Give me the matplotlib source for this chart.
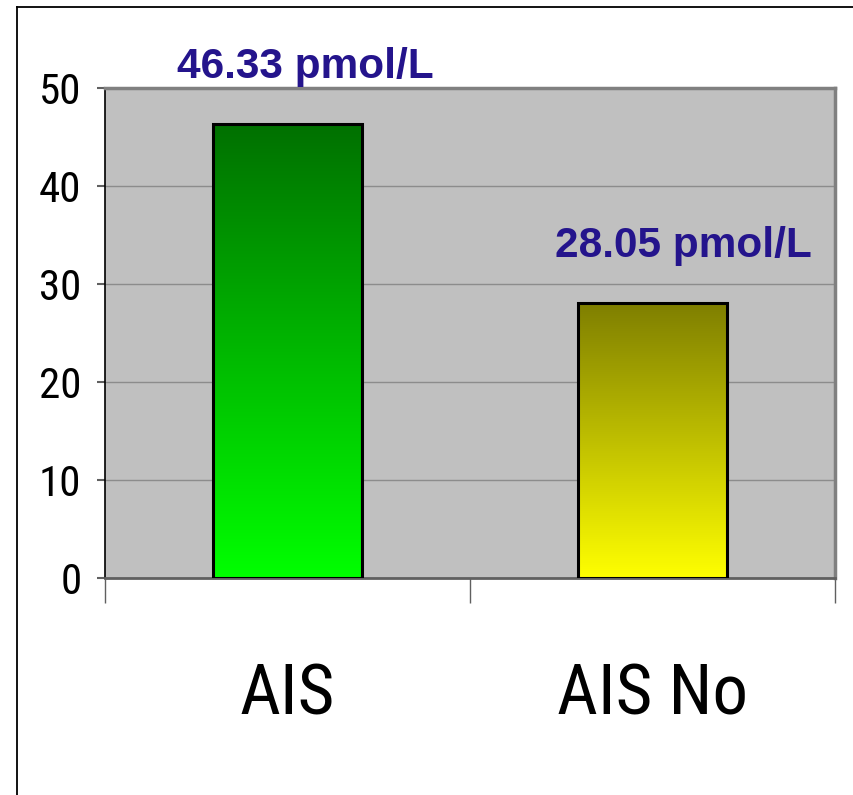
import numpy as np
import matplotlib.pyplot as plt
from matplotlib.lines import Line2D
from matplotlib.colors import LinearSegmentedColormap

# data
categories = ["AIS", "AIS No"]
values = [46.33, 28.05]
value_labels = ["46.33 pmol/L", "28.05 pmol/L"]
top_colors = ["#007000", "#7f7f00"]
bottom_colors = ["#00ff00", "#ffff00"]

# horizontal shift of each value label (points)
label_dx = [13, 22]

narrow = ["Roboto Condensed", "Archivo Narrow", "DejaVu Sans"]

fig = plt.figure(figsize=(8.54, 7.95), dpi=100)
ax = fig.add_axes([105 / 854, 1 - 578 / 795, (835 - 105) / 854, (578 - 88) / 795])
ax.set_facecolor("#c0c0c0")

bar_w = 0.41
bars = ax.bar(range(len(categories)), values, width=bar_w, color="none",
              edgecolor="black", linewidth=2.2, zorder=3)

# vertical gradient inside each bar
for i, (b, v) in enumerate(zip(bars, values)):
    cmap = LinearSegmentedColormap.from_list("g%d" % i, [bottom_colors[i], top_colors[i]])
    grad = np.linspace(0, 1, 256).reshape(-1, 1)
    im = ax.imshow(grad, cmap=cmap, aspect="auto", origin="lower",
                   extent=[i - bar_w / 2, i + bar_w / 2, 0, v], zorder=2)
    im.set_clip_path(b)
    ax.annotate(value_labels[i], xy=(i, v), xytext=(label_dx[i], 33), textcoords="offset points",
                ha="center", va="baseline", fontsize=30.5, fontweight="bold",
                color="#24148c", family=["Liberation Sans", "DejaVu Sans"],
                annotation_clip=False)

ax.set_xlim(-0.5, 1.5)
ax.set_ylim(0, 50)
ax.set_yticks([0, 10, 20, 30, 40, 50])
ax.yaxis.grid(True, color="#8c8c8c", linewidth=1.0, zorder=1)
ax.set_axisbelow(True)

ax.set_xticks([0, 1])
ax.set_xticklabels(categories, family=narrow, fontsize=51)
ax.set_xticks([-0.5, 0.5, 1.5], minor=True)
ax.tick_params(axis="x", which="major", length=0, pad=60)
ax.tick_params(axis="x", which="minor", length=18, width=1.0, color="#606060", direction="out")
ax.tick_params(axis="y", length=6, width=1.5, color="#606060", pad=11, labelsize=31)
for lab in ax.get_yticklabels():
    lab.set_family(narrow)

ax.spines["top"].set_color("#808080")
ax.spines["top"].set_linewidth(2.5)
ax.spines["right"].set_color("#808080")
ax.spines["right"].set_linewidth(2.5)
ax.spines["left"].set_color("black")
ax.spines["left"].set_linewidth(1.2)
ax.spines["bottom"].set_color("#606060")
ax.spines["bottom"].set_linewidth(2)

# outer frame (left and top edges)
fig.add_artist(Line2D([17 / 854, 17 / 854], [0, 1 - 7 / 795], color="black", linewidth=1.3))
fig.add_artist(Line2D([17 / 854, 1], [1 - 7 / 795, 1 - 7 / 795], color="black", linewidth=1.3))

fig.savefig("out.png", dpi=100)
